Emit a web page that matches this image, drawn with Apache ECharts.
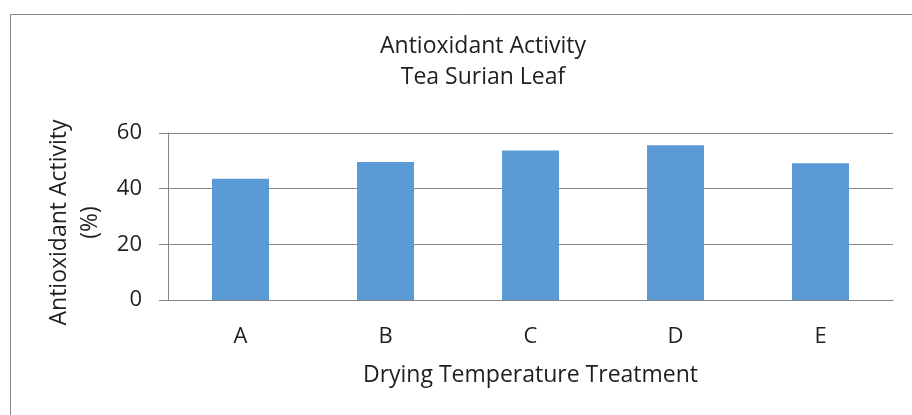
<!DOCTYPE html>
<html>
<head>
<meta charset="utf-8">
<script src="https://cdn.jsdelivr.net/npm/echarts@6/dist/echarts.min.js"></script>
<style>
html,body{margin:0;padding:0;background:#fff;}
#chart{width:912px;height:415px;}
</style>
</head>
<body>
<div id="chart"></div>
<script>
var categories = ['A', 'B', 'C', 'D', 'E'];
var activityValues = [43.6, 49.6, 53.7, 55.6, 49.1];
var yTicks = [0, 20, 40, 60];

var FONT = 'Open Sans';
var TXT = '#1f1f1f';
var chart = echarts.init(document.getElementById('chart'), null, {renderer: 'canvas'});
chart.setOption({
  animation: false,
  backgroundColor: '#ffffff',
  textStyle: {fontFamily: FONT},
  graphic: [{
    type: 'rect',
    shape: {x: 10.5, y: 14.5, width: 920, height: 420},
    style: {fill: 'none', stroke: '#898989', lineWidth: 1},
    silent: true
  }],
  title: {
    text: 'Antioxidant Activity\nTea Surian Leaf',
    left: 483,
    top: 31,
    padding: 0,
    textAlign: 'center',
    textStyle: {fontFamily: FONT, fontSize: 23, fontWeight: 'normal', color: TXT, lineHeight: 31}
  },
  grid: {left: 168, right: 19, top: 133, bottom: 115, containLabel: false},
  xAxis: {
    type: 'category',
    data: categories,
    name: 'Drying Temperature Treatment',
    nameLocation: 'middle',
    nameGap: 64,
    nameTextStyle: {fontFamily: FONT, fontSize: 23, color: TXT, verticalAlign: 'top'},
    axisLine: {show: true, lineStyle: {color: '#868686', width: 1}},
    axisTick: {show: false},
    axisLabel: {fontFamily: FONT, fontSize: 22, color: TXT, margin: 26}
  },
  yAxis: {
    type: 'value',
    min: yTicks[0],
    max: yTicks[yTicks.length - 1],
    interval: 20,
    name: 'Antioxidant Activity\n(%)',
    nameLocation: 'middle',
    nameGap: 62,
    nameRotate: 90,
    nameTextStyle: {fontFamily: FONT, fontSize: 23, color: TXT, lineHeight: 31, padding: [0, 12, 0, 0]},
    axisLine: {show: true, lineStyle: {color: '#868686', width: 1}},
    axisTick: {show: true, length: 9, lineStyle: {color: '#868686'}},
    axisLabel: {fontFamily: FONT, fontSize: 22, color: TXT, margin: 26},
    splitLine: {show: true, lineStyle: {color: '#868686', width: 1}}
  },
  series: [{
    type: 'bar',
    data: activityValues,
    barWidth: 57,
    itemStyle: {color: '#5b9bd5'}
  }]
});
</script>
</body>
</html>
